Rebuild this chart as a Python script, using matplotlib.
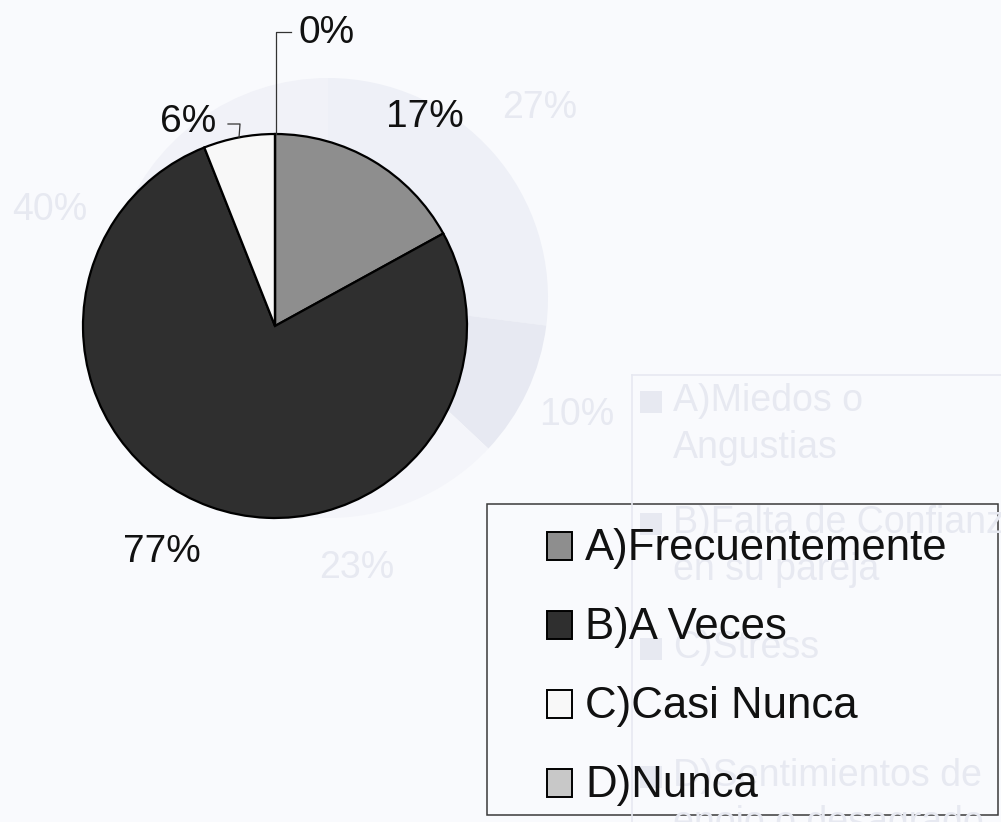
import matplotlib.pyplot as plt
import numpy as np
from matplotlib.patches import Rectangle

plt.rcParams['font.family'] = ['Liberation Sans', 'DejaVu Sans']

W, H = 1001, 822
bg = '#f9fafd'

# Chart on this page
categories = ['A)Frecuentemente', 'B)A Veces', 'C)Casi Nunca', 'D)Nunca']
values = [17, 77, 6, 0]
colors = ['#8e8e8e', '#2f2f2f', '#f8f8f8', '#c8c8c8']

# Chart showing through from the back of the scanned page
ghost_categories = ['A)Miedos o\nAngustias', 'B)Falta de Confianza\nen su pareja',
                    'C)Stress', 'D)Sentimientos de\nenojo o desagrado']
ghost_values = [27, 10, 23, 40]
ghost_colors = ['#eef0f7', '#e7e9f2', '#f4f5fa', '#f1f2f8']
ghost_ink = '#e7e9f1'


def Y(y):
    # image rows (top down) -> axes units (bottom up)
    return H - y


fig = plt.figure(figsize=(W / 100, H / 100), dpi=100, facecolor=bg)
ax = fig.add_axes([0, 0, 1, 1])
ax.set_facecolor(bg)

# ghost pie, labels and legend
ax.pie(ghost_values, colors=ghost_colors, startangle=90, counterclock=False,
       center=(328, Y(298)), radius=220, wedgeprops=dict(linewidth=0))
ghost_label_pos = [(540, 108), (577, 415), (357, 568), (50, 210)]
for v, (x, y) in zip(ghost_values, ghost_label_pos):
    ax.text(x, Y(y), '%d%%' % v, fontsize=27, color=ghost_ink,
            ha='center', va='center')

ax.plot([632, W], [Y(375), Y(375)], color=ghost_ink, lw=1.2)
ax.plot([632, 632], [Y(375), 0], color=ghost_ink, lw=1.2)
ghost_rows = [403, 525, 650, 778]
for lab, y in zip(ghost_categories, ghost_rows):
    ax.add_patch(Rectangle((640, Y(y) - 10), 22, 22, facecolor=ghost_ink,
                           edgecolor='none'))
    ax.text(673, Y(y - 20), lab, fontsize=27, color=ghost_ink, ha='left',
            va='top', linespacing=1.4)

# main pie
cx, cy, r = 275, Y(326), 192
wedges, _ = ax.pie(values, colors=colors, startangle=90, counterclock=False,
                   center=(cx, cy), radius=r,
                   wedgeprops=dict(edgecolor='black', linewidth=1.6))

# percentage labels (x, baseline row, alignment)
label_pos = [(425, 127, 'center'), (162, 562, 'center'),
             (216, 132, 'right'), (298, 43, 'left')]
for v, (x, y, ha) in zip(values, label_pos):
    ax.text(x, Y(y), '%d%%' % v, fontsize=28, color='#111111',
            ha=ha, va='baseline')

# leader lines for the two small slices
w = wedges[2]
t = np.deg2rad((w.theta1 + w.theta2) / 2)
ex, ey = cx + r * np.cos(t), cy + r * np.sin(t)
ax.plot([ex, ex + 1, 228], [ey, Y(124), Y(124)], color='#333333', lw=0.9)
w = wedges[3]
t = np.deg2rad(w.theta1)
ex, ey = cx + r * np.cos(t), cy + r * np.sin(t)
ax.plot([ex + 1, ex + 1, 291], [ey, Y(32), Y(32)], color='#333333', lw=0.9)

# legend
ax.add_patch(Rectangle((487, Y(815)), 511, 311, fill=False,
                       edgecolor='#3a3a3a', lw=1.1))
for i, (lab, col) in enumerate(zip(categories, colors)):
    base = 560 + i * 79
    ax.add_patch(Rectangle((547, Y(base)), 25, 28, facecolor=col,
                           edgecolor='black', lw=1.4))
    ax.text(585, Y(base), lab, fontsize=31.5, color='#111111',
            ha='left', va='baseline')

ax.set_xlim(0, W)
ax.set_ylim(0, H)
ax.set_aspect('equal')
ax.axis('off')

fig.savefig('out.png', dpi=100, facecolor=bg)
